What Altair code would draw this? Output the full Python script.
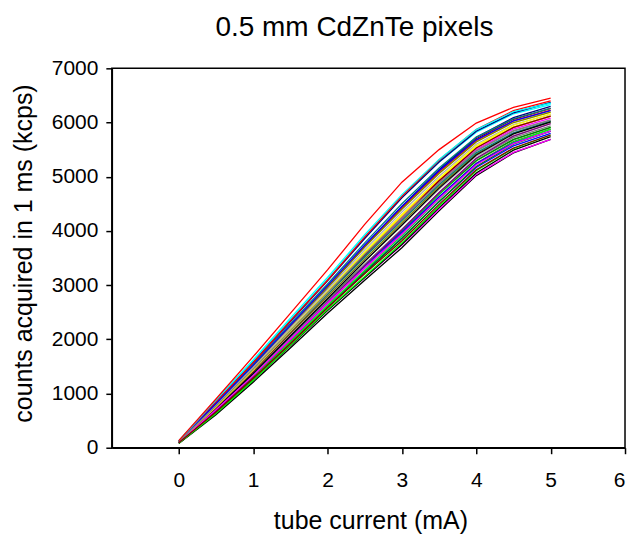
import altair as alt
import pandas as pd

# tube current (mA) sample points
current = [0.0, 0.5, 1.0, 1.5, 2.0, 2.5, 3.0, 3.5, 4.0, 4.5, 5.0]

# counts acquired in 1 ms (kcps), one list per pixel
p01 = [80, 610, 1210, 1840, 2480, 3090, 3690, 4370, 5020, 5440, 5690]
p02 = [105, 760, 1450, 2160, 2870, 3580, 4290, 4940, 5540, 5910, 6120]
p03 = [95, 700, 1330, 2020, 2690, 3360, 3990, 4670, 5290, 5680, 5910]
p04 = [115, 810, 1520, 2250, 2980, 3710, 4420, 5070, 5650, 6000, 6190]
p05 = [90, 670, 1300, 1950, 2620, 3250, 3870, 4540, 5170, 5570, 5800]
p06 = [90, 650, 1260, 1890, 2540, 3140, 3740, 4400, 5040, 5450, 5690]
p07 = [120, 860, 1590, 2350, 3100, 3890, 4630, 5290, 5850, 6190, 6360]
p08 = [100, 750, 1420, 2120, 2830, 3520, 4210, 4860, 5470, 5840, 6040]
p09 = [110, 790, 1490, 2230, 2960, 3720, 4440, 5110, 5700, 6060, 6260]
p10 = [100, 710, 1360, 2030, 2720, 3380, 4020, 4690, 5300, 5690, 5910]
p11 = [105, 740, 1400, 2100, 2790, 3480, 4150, 4820, 5420, 5800, 6010]
p12 = [110, 780, 1480, 2220, 2950, 3710, 4450, 5130, 5730, 6090, 6300]
p13 = [95, 690, 1320, 1990, 2660, 3310, 3950, 4620, 5250, 5650, 5880]
p14 = [115, 830, 1540, 2290, 3020, 3780, 4500, 5160, 5730, 6070, 6260]
p15 = [100, 720, 1380, 2070, 2760, 3440, 4100, 4770, 5380, 5760, 5980]
p16 = [85, 630, 1240, 1880, 2530, 3140, 3750, 4430, 5070, 5490, 5740]
p17 = [115, 800, 1500, 2240, 2970, 3720, 4430, 5090, 5670, 6030, 6230]
p18 = [90, 660, 1290, 1950, 2620, 3270, 3910, 4590, 5230, 5640, 5880]
p19 = [110, 780, 1460, 2180, 2890, 3610, 4300, 4960, 5550, 5920, 6120]
p20 = [100, 720, 1360, 2040, 2710, 3350, 3980, 4630, 5240, 5620, 5840]
p21 = [105, 750, 1420, 2130, 2840, 3550, 4230, 4900, 5500, 5880, 6080]
p22 = [125, 870, 1600, 2360, 3100, 3890, 4620, 5270, 5820, 6160, 6330]
p23 = [95, 700, 1340, 2020, 2710, 3380, 4030, 4700, 5330, 5720, 5940]
p24 = [105, 740, 1410, 2120, 2830, 3550, 4240, 4920, 5530, 5910, 6120]
p25 = [90, 650, 1270, 1920, 2590, 3230, 3860, 4540, 5190, 5600, 5840]
p26 = [115, 800, 1500, 2240, 2960, 3700, 4400, 5060, 5640, 6000, 6190]
p27 = [120, 840, 1570, 2330, 3080, 3860, 4610, 5270, 5840, 6180, 6370]
p28 = [95, 680, 1320, 1990, 2680, 3360, 4020, 4710, 5340, 5750, 5980]
p29 = [105, 760, 1430, 2140, 2830, 3520, 4190, 4850, 5440, 5810, 6020]
p30 = [110, 790, 1480, 2210, 2920, 3650, 4350, 5010, 5600, 5960, 6150]
p31 = [100, 710, 1370, 2060, 2750, 3440, 4110, 4790, 5400, 5790, 6010]
p32 = [120, 840, 1570, 2340, 3090, 3890, 4640, 5310, 5870, 6220, 6400]
p33 = [85, 630, 1240, 1890, 2550, 3160, 3780, 4460, 5110, 5520, 5770]
p34 = [105, 750, 1430, 2150, 2860, 3590, 4290, 4970, 5570, 5950, 6160]
p35 = [115, 810, 1520, 2260, 2990, 3740, 4450, 5110, 5680, 6030, 6220]
p36 = [95, 700, 1330, 2000, 2670, 3310, 3940, 4600, 5220, 5610, 5840]
p37 = [125, 880, 1620, 2390, 3140, 3930, 4670, 5320, 5870, 6200, 6360]
p38 = [110, 770, 1450, 2160, 2860, 3570, 4240, 4890, 5480, 5850, 6050]
p39 = [90, 660, 1280, 1920, 2580, 3210, 3820, 4490, 5130, 5530, 5770]
p40 = [130, 900, 1680, 2480, 3280, 4120, 4900, 5500, 5990, 6280, 6450]

pixels = [p01, p02, p03, p04, p05, p06, p07, p08, p09, p10,
          p11, p12, p13, p14, p15, p16, p17, p18, p19, p20,
          p21, p22, p23, p24, p25, p26, p27, p28, p29, p30,
          p31, p32, p33, p34, p35, p36, p37, p38, p39, p40]

palette = ["#000000", "#ff0000", "#00ff00", "#ffff00", "#0000ff",
           "#ff00ff", "#00ffff", "#808080", "#800000", "#008000",
           "#808000", "#000080", "#800080", "#008080", "#b0b0b0"]

x_ticks = [0, 1, 2, 3, 4, 5, 6]
y_ticks = [0, 1000, 2000, 3000, 4000, 5000, 6000, 7000]

rows = []
names = []
for k, series in enumerate(pixels):
    name = f"pixel {k + 1:02d}"
    names.append(name)
    for xv, yv in zip(current, series):
        rows.append({"pixel": name, "order": k, "current": xv, "counts": yv})
df = pd.DataFrame(rows)

colors = [palette[k % len(palette)] for k in range(len(names))]
colors[-1] = "#ff0000"

FONT = "Liberation Sans"

chart = alt.Chart(df).mark_line(strokeWidth=1.3, clip=True).encode(
    x=alt.X("current:Q",
            scale=alt.Scale(domain=[-0.9, 6], nice=False, zero=False),
            axis=alt.Axis(values=x_ticks, title="tube current (mA)",
                          titleX=259, titleY=73, titleBaseline="middle",
                          labelPadding=16, format="d")),
    y=alt.Y("counts:Q",
            scale=alt.Scale(domain=[0, 7000], nice=False),
            axis=alt.Axis(values=y_ticks, title="counts acquired in 1 ms (kcps)",
                          titleX=-88, titleY=185, titleBaseline="middle",
                          titleAngle=-90, labelPadding=8, format="d")),
    color=alt.Color("pixel:N", scale=alt.Scale(domain=names, range=colors), legend=None),
    detail="pixel:N",
    order="order:Q",
).properties(
    width=514,
    height=380,
    title=alt.TitleParams("0.5 mm CdZnTe pixels", fontSize=28, font=FONT,
                          fontWeight="normal", color="black", anchor="middle",
                          dx=-14, offset=15),
    autosize=alt.AutoSizeParams(type="none"),
    padding={"left": 104, "top": 60, "right": 8, "bottom": 95},
).configure_axis(
    grid=False,
    domainColor="black",
    domainWidth=1.5,
    tickColor="black",
    tickWidth=1.5,
    tickSize=6,
    labelFont=FONT,
    labelFontSize=21,
    labelColor="black",
    titleFont=FONT,
    titleFontSize=25,
    titleFontWeight="normal",
    titleColor="black",
).configure_view(
    stroke="black",
    strokeWidth=1.5,
)

chart.save("out.html", embed_options={"renderer": "svg", "actions": False})
